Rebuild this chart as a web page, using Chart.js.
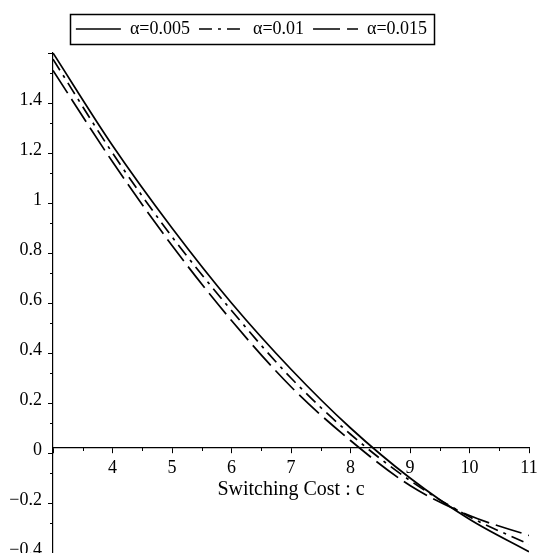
<!DOCTYPE html>
<html>
<head>
<meta charset="utf-8">
<script src="https://cdn.jsdelivr.net/npm/chart.js@4.4.0/dist/chart.umd.min.js"></script>
<style>
  html, body { margin: 0; padding: 0; background: #fff; overflow: hidden; }
  #wrap { width: 537px; height: 553px; }
</style>
</head>
<body>
<div id="wrap"><canvas id="grafico"></canvas></div>
<script>
// switching cost c
const custos = [3, 4, 5, 6, 7, 8, 9, 10, 11];

// series
const alfa005 = [1.58, 1.21, 0.88, 0.58, 0.315, 0.08, -0.12, -0.285, -0.415];
const alfa01 = [1.555, 1.18, 0.845, 0.55, 0.28, 0.055, -0.13, -0.275, -0.385];
const alfa015 = [1.51, 1.145, 0.81, 0.51, 0.245, 0.03, -0.15, -0.27, -0.35];

const rotulos = ['\u03b1=0.005', '\u03b1=0.01', '\u03b1=0.015'];

const xTicks = [4, 5, 6, 7, 8, 9, 10, 11];
const yTicks = [-0.4, -0.2, 0, 0.2, 0.4, 0.6, 0.8, 1, 1.2, 1.4];

const fonte = "'Liberation Serif', 'Times New Roman', serif";

function pontos(valores) {
    return custos.map((c, i) => ({x: c, y: valores[i]}));
}

function serie(label, valores, dash) {
    return {
        label: label,
        data: pontos(valores),
        borderColor: '#000',
        backgroundColor: '#000',
        borderWidth: 1.7,
        borderDash: dash,
        pointRadius: 0,
        cubicInterpolationMode: 'monotone',
        fill: false
    };
}

// minor ticks + legend frame
const extras = {
    id: 'extras',
    afterLayout(chart) {
        const leg = chart.legend;
        leg.left -= 17;
        leg.right -= 17;
        leg.top -= 5;
        leg.bottom -= 5;
    },
    afterDraw(chart) {
        const ctx = chart.ctx;
        const x = chart.scales.x;
        const y = chart.scales.y;
        const y0 = y.getPixelForValue(0);
        ctx.save();
        ctx.strokeStyle = '#000';
        ctx.lineWidth = 1;
        ctx.beginPath();
        for (let v = 3.5; v < 11; v += 1) {
            const px = Math.round(x.getPixelForValue(v)) + 0.5;
            ctx.moveTo(px, y0);
            ctx.lineTo(px, y0 + 3);
        }
        for (let k = -3; k <= 15; k += 2) {
            const py = Math.round(y.getPixelForValue(k / 10)) + 0.5;
            ctx.moveTo(y.right - 3, py);
            ctx.lineTo(y.right, py);
        }
        ctx.stroke();

        const caixas = chart.legend.legendHitBoxes;
        if (caixas && caixas.length) {
            const l = caixas[0].left - 6;
            const r = caixas[caixas.length - 1].left + caixas[caixas.length - 1].width + 7;
            const t = caixas[0].top - 6;
            const b = caixas[0].top + caixas[0].height + 6;
            ctx.lineWidth = 1.5;
            ctx.strokeRect(Math.round(l) + 0.5, Math.round(t) + 0.5, Math.round(r - l), Math.round(b - t));
        }
        ctx.restore();
    }
};

const ctx = document.getElementById('grafico').getContext('2d');

new Chart(ctx, {
    type: 'line',
    data: {
        datasets: [
            serie(rotulos[0], alfa005, []),
            serie(rotulos[1], alfa01, [13, 6, 3, 6]),
            serie(rotulos[2], alfa015, [27, 7])
        ]
    },
    options: {
        responsive: true,
        maintainAspectRatio: false,
        animation: false,
        layout: {padding: {top: 6, left: 0, right: 0, bottom: 0}},
        plugins: {
            tooltip: {enabled: false},
            legend: {
                position: 'top',
                labels: {
                    color: '#000',
                    font: {family: fonte, size: 18},
                    usePointStyle: true,
                    pointStyle: 'line',
                    pointStyleWidth: 45,
                    boxWidth: 45,
                    padding: 9,
                    generateLabels: function (chart) {
                        const itens = Chart.defaults.plugins.legend.labels.generateLabels(chart);
                        itens.forEach(item => {
                            const ds = chart.data.datasets[item.datasetIndex];
                            item.lineDash = ds.borderDash;
                            item.lineWidth = ds.borderWidth;
                            item.pointStyle = 'line';
                        });
                        return itens;
                    }
                }
            }
        },
        scales: {
            x: {
                type: 'linear',
                position: {y: 0},
                min: 3,
                max: 11,
                border: {color: '#000', width: 1.2},
                grid: {drawOnChartArea: false, drawTicks: true, tickLength: 5, tickColor: '#000'},
                ticks: {
                    stepSize: 1,
                    color: '#000',
                    font: {family: fonte, size: 18},
                    padding: 4,
                    maxRotation: 0,
                    autoSkip: false,
                    callback: v => xTicks.includes(v) ? String(v) : ''
                },
                title: {
                    display: true,
                    text: 'Switching Cost : c',
                    color: '#000',
                    font: {family: fonte, size: 20},
                    padding: {top: -5, bottom: 0}
                },
                afterFit(scale) {
                    scale.paddingLeft = 0;
                    scale.paddingRight = 8;
                }
            },
            y: {
                type: 'linear',
                position: 'left',
                min: -0.42,
                max: 1.58,
                border: {color: '#000', width: 1.2},
                grid: {drawOnChartArea: false, drawTicks: true, tickLength: 5, tickColor: '#000'},
                ticks: {
                    stepSize: 0.2,
                    includeBounds: false,
                    color: '#000',
                    font: {family: fonte, size: 18},
                    padding: 6,
                    labelOffset: -3,
                    autoSkip: false,
                    callback: function (v) {
                        const r = Math.round(v * 10) / 10;
                        if (!yTicks.includes(r)) return '';
                        return r < 0 ? '\u2212' + String(-r) : String(r);
                    }
                },
                afterFit(scale) {
                    scale.width = 53;
                    scale.paddingTop = 53;
                    scale.paddingBottom = 0;
                }
            }
        }
    },
    plugins: [extras]
});
</script>
</body>
</html>
